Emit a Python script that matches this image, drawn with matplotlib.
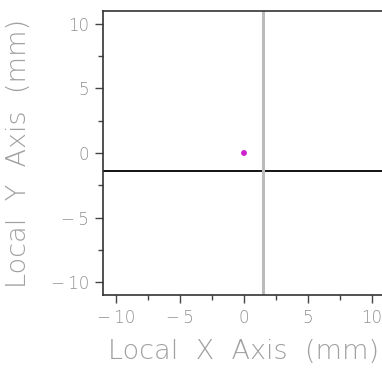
import numpy as np
import matplotlib
matplotlib.use('Agg')
import matplotlib.pyplot as plt
from matplotlib.ticker import MultipleLocator

# data
point_x = [0.0]
point_y = [0.0]
hline_y = -1.4
vline_x = 1.48
lims = (-11, 11)
ticks = [-10, -5, 0, 5, 10]
tick_labels = ['\u2212\u200910', '\u2212\u20095', '0', '5', '10']

text_col = '#a0a0a0'

fig = plt.figure(figsize=(3.82, 3.72), dpi=100)
ax = fig.add_axes([103/382, 1 - 295/372, 282/382, 284/372])

ax.axhline(hline_y, color='black', lw=1.3, zorder=2)
ax.axvline(vline_x, color='#bbbbbb', lw=2.2, zorder=2)
ax.scatter(point_x, point_y, s=18, color='#cc22cc', edgecolors='none', zorder=3)

ax.set_xlim(*lims)
ax.set_ylim(*lims)
ax.set_xticks(ticks)
ax.set_yticks(ticks)
ax.set_xticklabels(tick_labels)
ax.set_yticklabels(tick_labels)
ax.xaxis.set_minor_locator(MultipleLocator(2.5))
ax.yaxis.set_minor_locator(MultipleLocator(2.5))
ax.tick_params(which='major', length=6, width=1, color='#444444',
               labelsize=12, labelcolor='#909090', pad=4)
ax.tick_params(which='minor', length=3.5, width=1, color='#444444')
for lab in ax.get_xticklabels() + ax.get_yticklabels():
    lab.set_fontweight('light')

for s in ax.spines.values():
    s.set_color('#333333')
    s.set_linewidth(1.2)

ax.set_xlabel('Local  X  Axis  (mm)', fontsize=19.5, color=text_col,
              labelpad=9, fontweight='light')
ax.set_ylabel('Local  Y  Axis  (mm)', fontsize=19.5, color=text_col,
              labelpad=14, fontweight='light')

fig.savefig('out.png', dpi=100)
